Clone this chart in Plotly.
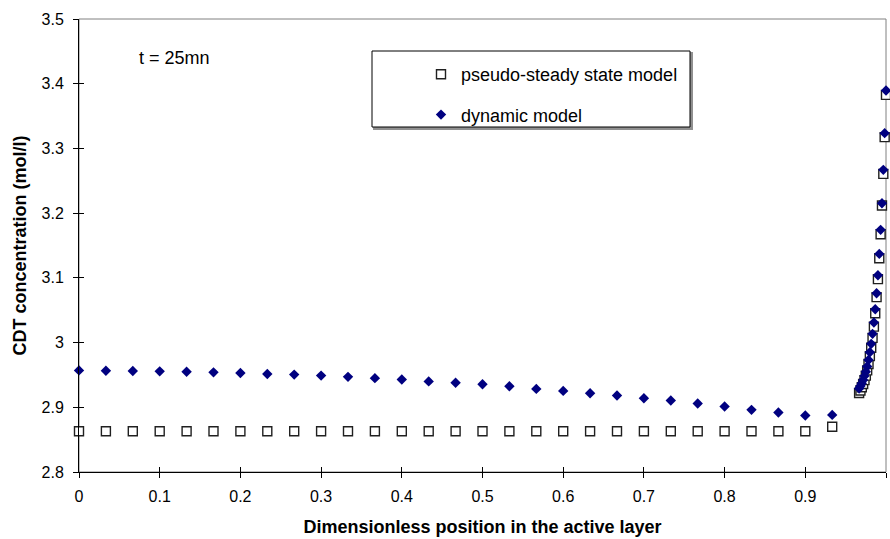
import plotly.graph_objects as go

# ---- data ----
x_coarse = [i / 30 for i in range(29)]
x_fine = [29 / 30 + i / 600 for i in range(21)]

pseudo_coarse = [2.863] * 28 + [2.870]
dynamic_coarse = [2.957, 2.9565, 2.956, 2.9555, 2.955, 2.954, 2.953, 2.9515, 2.9505,
                  2.949, 2.947, 2.945, 2.943, 2.940, 2.938, 2.9357, 2.9326, 2.9284,
                  2.9253, 2.9217, 2.9181, 2.914, 2.9104, 2.9058, 2.9011, 2.896,
                  2.8919, 2.8872, 2.8882]

dynamic_fine = [2.929, 2.933, 2.937, 2.942, 2.9485, 2.955, 2.963, 2.973, 2.985, 2.998,
                3.0135, 3.031, 3.0516, 3.0763, 3.104, 3.137, 3.1742, 3.2154, 3.2669,
                3.3236, 3.3895]
pseudo_fine = [2.922, 2.926, 2.931, 2.936, 2.942, 2.949, 2.957, 2.967, 2.979, 2.992,
               3.0073, 3.0247, 3.0454, 3.0702, 3.098, 3.1304, 3.1675, 3.2118, 3.2607,
               3.3175, 3.3828]

x_all = x_coarse + x_fine
pseudo = pseudo_coarse + pseudo_fine
dynamic = dynamic_coarse + dynamic_fine

x_ticks = [i / 10 for i in range(11)]
x_ticktext = ["0", "0.1", "0.2", "0.3", "0.4", "0.5", "0.6", "0.7", "0.8", "0.9", "1"]
y_ticks = [2.8, 2.9, 3.0, 3.1, 3.2, 3.3, 3.4, 3.5]
y_ticktext = ["2.8", "2.9", "3", "3.1", "3.2", "3.3", "3.4", "3.5"]

FONT = "Liberation Sans, Arial, sans-serif"
W, H = 890, 539
L, R, T, B = 79, 4, 19, 67
PW, PH = W - L - R, H - T - B


def px_x(p):
    return (p - L) / PW


def px_y(p):
    return (H - B - p) / PH


fig = go.Figure()
fig.add_trace(go.Scatter(
    x=x_all, y=pseudo, mode="markers", name="pseudo-steady state model",
    legendgroup="a",
    marker=dict(symbol="square", size=9, color="white",
                line=dict(color="#202020", width=1.4)),
    cliponaxis=False))
fig.add_trace(go.Scatter(
    x=x_all, y=dynamic, mode="markers", name="dynamic model",
    legendgroup="b",
    marker=dict(symbol="diamond", size=8, color="#000080",
                line=dict(color="#000080", width=0)),
    cliponaxis=False))
# invisible trace to host the overlay axes (inner half of cross ticks)
fig.add_trace(go.Scatter(x=[0], y=[2.8], xaxis="x2", yaxis="y2", mode="markers",
                         marker=dict(opacity=0), showlegend=False, hoverinfo="skip"))

axis_common = dict(showgrid=False, zeroline=False, showline=True, linecolor="black",
                   linewidth=1, ticks="outside", ticklen=5, tickcolor="black",
                   tickwidth=1, tickfont=dict(family=FONT, size=16, color="black"))

fig.update_layout(
    width=W, height=H,
    margin=dict(l=L, r=R, t=T, b=B),
    paper_bgcolor="white", plot_bgcolor="white",
    font=dict(family=FONT, color="black"),
    xaxis=dict(range=[0, 1], tickvals=x_ticks, ticktext=x_ticktext,
               ticklabelstandoff=5,
               title=dict(text="<b>Dimensionless position in the active layer</b>",
                          font=dict(family=FONT, size=18), standoff=16),
               **axis_common),
    yaxis=dict(range=[2.8, 3.5], tickvals=y_ticks, ticktext=y_ticktext,
               ticklabelstandoff=6,
               title=dict(text="<b>CDT concentration (mol/l)</b>",
                          font=dict(family=FONT, size=18), standoff=10),
               **axis_common),
    xaxis2=dict(overlaying="x", matches="x", anchor="y2", showgrid=False, zeroline=False,
                showline=False, ticks="inside", ticklen=5, tickcolor="black",
                tickvals=x_ticks, showticklabels=False),
    yaxis2=dict(overlaying="y", matches="y", anchor="x2", showgrid=False, zeroline=False,
                showline=False, ticks="inside", ticklen=5, tickcolor="black",
                tickvals=y_ticks, showticklabels=False),
    showlegend=True,
    legend=dict(x=px_x(421), y=px_y(56),
                xanchor="left", yanchor="top", bgcolor="rgba(0,0,0,0)",
                borderwidth=0, tracegroupgap=14, traceorder="grouped",
                font=dict(family=FONT, size=18, color="black")),
    shapes=[
        dict(type="rect", xref="paper", yref="paper", x0=0, x1=1, y0=0, y1=1,
             line=dict(color="#808080", width=1), layer="below"),
        dict(type="rect", xref="paper", yref="paper",
             x0=px_x(374), x1=px_x(692), y0=px_y(129), y1=px_y(53),
             line=dict(color="#909090", width=2), fillcolor="#909090", layer="below"),
        dict(type="rect", xref="paper", yref="paper",
             x0=px_x(372), x1=px_x(690), y0=px_y(127), y1=px_y(51),
             line=dict(color="black", width=1), fillcolor="white", layer="below"),
    ],
    annotations=[
        dict(text="t = 25mn", xref="paper", yref="paper",
             x=px_x(137), y=px_y(58),
             xanchor="left", yanchor="middle", showarrow=False,
             font=dict(family=FONT, size=18, color="black")),
    ],
)

fig.write_html("out.html")
